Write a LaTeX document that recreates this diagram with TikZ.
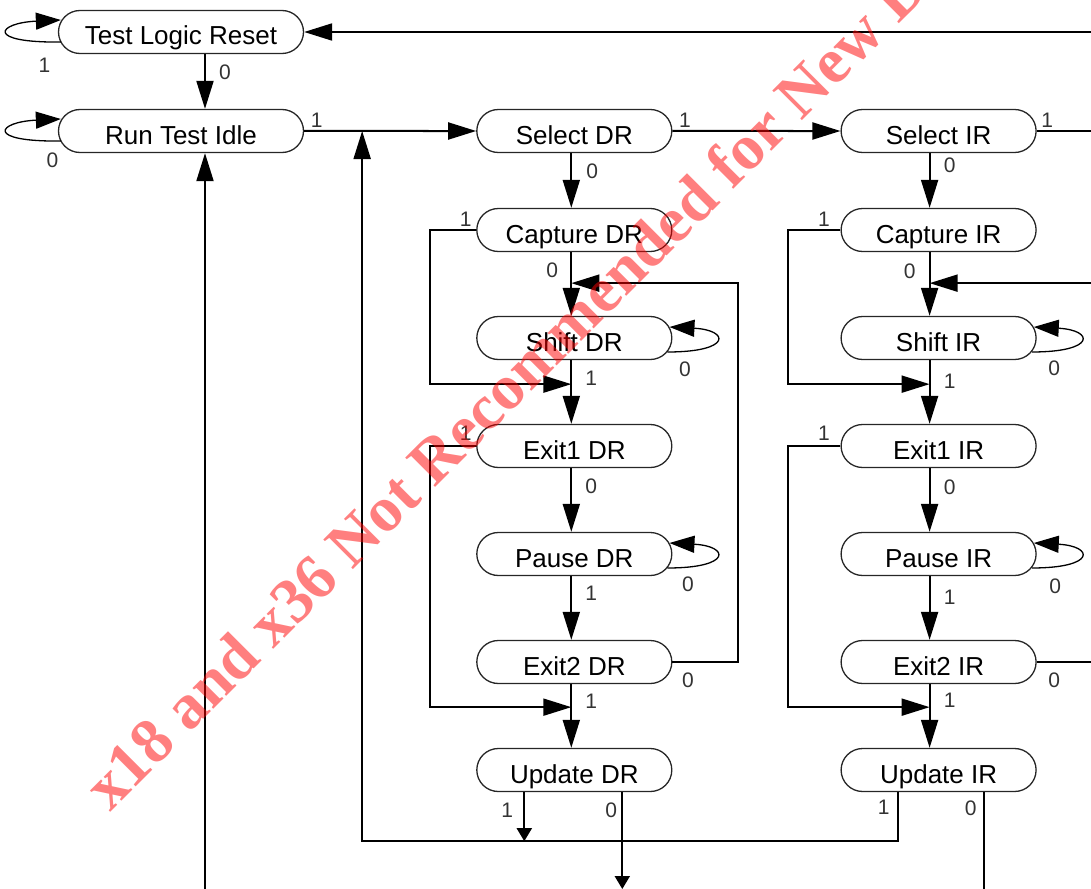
\documentclass[tikz,border=0pt]{standalone}
\usepackage{fontspec}
\setmainfont{Liberation Sans}
\newfontfamily\markfont{Liberation Serif}
\usetikzlibrary{positioning, arrows.meta, shapes.misc}

\begin{document}
\begin{tikzpicture}[
    x=0.5pt, y=-0.5pt,
    node distance=31.85pt,
    state/.style={
        rounded rectangle,
        draw=black!85, line width=0.65pt,
        minimum width=97.5pt, minimum height=21.5pt,
        inner sep=0pt, text height=13pt, text depth=0pt,
        font=\fontsize{13pt}{15pt}\selectfont
    },
    widestate/.style={state, minimum width=122.5pt},
    arrow/.style={-{Triangle[length=14pt, width=8.5pt]}, line width=1pt},
    smallarrow/.style={-{Triangle[length=6.5pt, width=7.5pt]}, line width=1pt},
    line/.style={line width=1pt},
    selfloop/.style={-{Triangle[length=12.5pt, width=8.5pt]}, line width=0.65pt},
    lbl/.style={font=\fontsize{10.5pt}{12pt}\selectfont, text=black!80, inner sep=0pt},
    watermark/.style={
        anchor=base west, rotate=45, inner sep=0pt,
        font=\markfont\bfseries\fontsize{32pt}{36pt}\selectfont,
        text=red, text opacity=0.5
    }
]
\useasboundingbox (0,0) rectangle (1091,888);

% Top row: reset, idle and the two select states
\node[widestate] (tlr) at (181,32) {Test Logic Reset};
\node[widestate, below=27.35pt of tlr] (rti) {Run Test Idle};
\node[state, right=86pt of rti] (seldr) {Select DR};
\node[state, right=84pt of seldr] (selir) {Select IR};

% Data register column
\node[state, below=27.35pt of seldr] (capdr) {Capture DR};
\node[state, below=of capdr] (shiftdr) {Shift DR};
\node[state, below=of shiftdr] (exit1dr) {Exit1 DR};
\node[state, below=of exit1dr] (pausedr) {Pause DR};
\node[state, below=of pausedr] (exit2dr) {Exit2 DR};
\node[state, below=of exit2dr] (upddr) {Update DR};

% Instruction register column
\node[state, below=27.35pt of selir] (capir) {Capture IR};
\node[state, below=of capir] (shiftir) {Shift IR};
\node[state, below=of shiftir] (exit1ir) {Exit1 IR};
\node[state, below=of exit1ir] (pauseir) {Pause IR};
\node[state, below=of pauseir] (exit2ir) {Exit2 IR};
\node[state, below=of exit2ir] (updir) {Update IR};

% Helper points for the vertical runs and the cut edges
\coordinate (idleline) at ([shift={(24,0)}]rti.center);
\coordinate (drline) at ([shift={(-3,0)}]seldr.center);
\coordinate (irline) at ([shift={(-9,0)}]selir.center);
\coordinate (edgeR) at (1100,0);
\coordinate (edgeB) at (0,889);
\coordinate (drjoin) at ([shift={(-3,31)}]capdr.south);
\coordinate (irjoin) at ([shift={(-9,31)}]capir.south);
\coordinate (upddr1) at ([shift={(-50,0)}]upddr.south);
\coordinate (upddr0) at ([shift={(48,0)}]upddr.south);
\coordinate (updir1) at ([shift={(-41,0)}]updir.south);
\coordinate (updir0) at ([shift={(45,0)}]updir.south);
\coordinate (retline) at ([shift={(0,49)}]upddr.south);
\coordinate (retup) at ([shift={(58,0)}]rti.east);

% Reset and idle transitions
\draw[selfloop] ([shift={(3,10)}]tlr.west) .. controls +(-76,1) and +(-64,3) .. ([shift={(3,-12)}]tlr.west)
    node[lbl] at ([shift={(-13.5,33)}]tlr.west) {1};
\draw[arrow] (tlr.south -| idleline) -- (rti.north -| idleline)
    node[lbl] at ([shift={(44,18.5)}]tlr.south) {0};
\draw[selfloop] ([shift={(3,10)}]rti.west) .. controls +(-76,1) and +(-64,3) .. ([shift={(3,-12)}]rti.west)
    node[lbl] at ([shift={(-5.5,29)}]rti.west) {0};
\draw[arrow] (rti) -- (seldr) node[lbl] at ([shift={(12.5,-11)}]rti.east) {1};
\draw[arrow] (seldr) -- (selir) node[lbl] at ([shift={(12.5,-11)}]seldr.east) {1};
\draw[line] (selir.east) -- (selir.east -| edgeR) node[lbl] at ([shift={(10.5,-11)}]selir.east) {1};
\draw[arrow] (tlr.east -| edgeR) -- (tlr.east);
\draw[arrow] (idleline |- edgeB) -- (rti.south -| idleline);

% Data register path
\draw[arrow] (seldr.south -| drline) -- (capdr.north -| drline)
    node[lbl] at ([shift={(18,18.5)}]seldr.south) {0};
\draw[arrow] (capdr.south -| drline) -- (shiftdr.north -| drline)
    node[lbl] at ([shift={(-22,18.5)}]capdr.south) {0};
\draw[arrow] (capdr.west) -- ++(-46,0) |- ([shift={(-3,24)}]shiftdr.south)
    node[lbl] at ([shift={(-10.5,-11)}]capdr.west) {1};
\draw[selfloop] ([shift={(-5,14)}]shiftdr.east) .. controls +(65,0) and +(60,3) .. ([shift={(-3,-11)}]shiftdr.east)
    node[lbl] at ([shift={(12.5,31)}]shiftdr.east) {0};
\draw[arrow] (shiftdr.south -| drline) -- (exit1dr.north -| drline)
    node[lbl] at ([shift={(17,18.5)}]shiftdr.south) {1};
\draw[arrow] (exit1dr.west) -- ++(-46,0) |- ([shift={(-3,23)}]exit2dr.south)
    node[lbl] at ([shift={(-10.5,-13)}]exit1dr.west) {1};
\draw[arrow] (exit1dr.south -| drline) -- (pausedr.north -| drline)
    node[lbl] at ([shift={(17,18.5)}]exit1dr.south) {0};
\draw[selfloop] ([shift={(-5,14)}]pausedr.east) .. controls +(65,0) and +(60,3) .. ([shift={(-3,-11)}]pausedr.east)
    node[lbl] at ([shift={(15.5,30)}]pausedr.east) {0};
\draw[arrow] (pausedr.south -| drline) -- (exit2dr.north -| drline)
    node[lbl] at ([shift={(17,17.5)}]pausedr.south) {1};
\draw[arrow] (exit2dr.east) -- ++(66,0) |- (drjoin)
    node[lbl] at ([shift={(15.5,18)}]exit2dr.east) {0};
\draw[arrow] (exit2dr.south -| drline) -- (upddr.north -| drline)
    node[lbl] at ([shift={(17,17.5)}]exit2dr.south) {1};
\draw[smallarrow] (upddr1) -- (upddr1 |- retline)
    node[lbl] at ([shift={(-67,18.5)}]upddr.south) {1};
\draw[smallarrow] (upddr0) -- (upddr0 |- edgeB)
    node[lbl] at ([shift={(37,18.5)}]upddr.south) {0};

% Instruction register path
\draw[arrow] (selir.south -| irline) -- (capir.north -| irline)
    node[lbl] at ([shift={(11,12.5)}]selir.south) {0};
\draw[arrow] (capir.south -| irline) -- (shiftir.north -| irline)
    node[lbl] at ([shift={(-29,19.5)}]capir.south) {0};
\draw[arrow] (capir.west) -- ++(-52,0) |- ([shift={(-9,24)}]shiftir.south)
    node[lbl] at ([shift={(-16.5,-11)}]capir.west) {1};
\draw[selfloop] ([shift={(-5,14)}]shiftir.east) .. controls +(65,0) and +(60,3) .. ([shift={(-3,-11)}]shiftir.east)
    node[lbl] at ([shift={(17.5,30)}]shiftir.east) {0};
\draw[arrow] (shiftir.south -| irline) -- (exit1ir.north -| irline)
    node[lbl] at ([shift={(11,21.5)}]shiftir.south) {1};
\draw[arrow] (exit1ir.west) -- ++(-52,0) |- ([shift={(-9,23)}]exit2ir.south)
    node[lbl] at ([shift={(-16.5,-13)}]exit1ir.west) {1};
\draw[arrow] (exit1ir.south -| irline) -- (pauseir.north -| irline)
    node[lbl] at ([shift={(11,19.5)}]exit1ir.south) {0};
\draw[selfloop] ([shift={(-5,14)}]pauseir.east) .. controls +(65,0) and +(60,3) .. ([shift={(-3,-11)}]pauseir.east)
    node[lbl] at ([shift={(18.5,32)}]pauseir.east) {0};
\draw[arrow] (pauseir.south -| irline) -- (exit2ir.north -| irline)
    node[lbl] at ([shift={(11,21.5)}]pauseir.south) {1};
\draw[line] (exit2ir.east) -- (exit2ir.east -| edgeR)
    node[lbl] at ([shift={(17.5,18)}]exit2ir.east) {0};
\draw[arrow] (irjoin -| edgeR) -- (irjoin);
\draw[arrow] (exit2ir.south -| irline) -- (updir.north -| irline)
    node[lbl] at ([shift={(11,16.5)}]exit2ir.south) {1};
\draw[arrow] (updir1) |- (retline -| retup) -- (retup)
    node[lbl] at ([shift={(-55,15.5)}]updir.south) {1};
\draw[line] (updir0) -- (updir0 |- edgeB)
    node[lbl] at ([shift={(32,16.5)}]updir.south) {0};

% Watermark across the figure
\node[watermark] (notice) at (110,813) {x18 and x36 Not Recommended for New Designs};

\end{tikzpicture}
\end{document}
